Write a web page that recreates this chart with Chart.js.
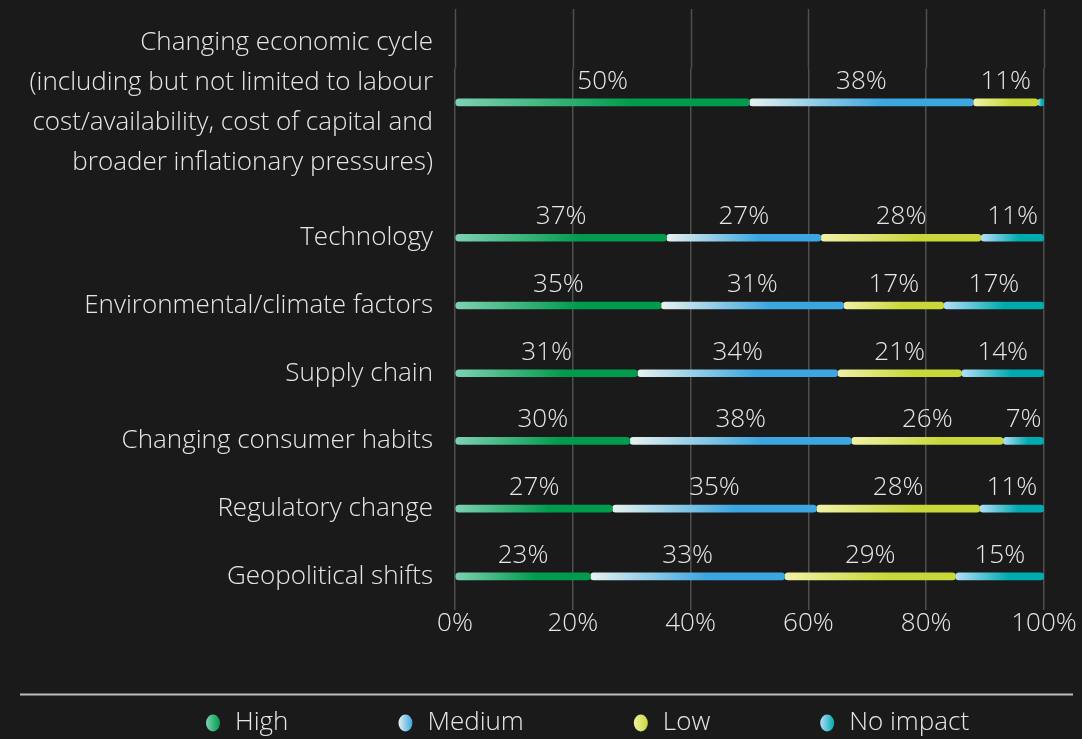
<!DOCTYPE html>
<html><head><meta charset="utf-8">
<script src="https://cdn.jsdelivr.net/npm/chart.js@4.4.1/dist/chart.umd.min.js"></script>
<style>
html,body{margin:0;padding:0;background:#1a1a1a;}
#wrap{position:relative;width:1082px;height:739px;}
</style></head><body>
<div id="wrap"><canvas id="c" width="1082" height="739"></canvas></div>
<script>
// ---- data ----
const categories = [
  ["Changing economic cycle","(including but not limited to labour","cost/availability, cost of capital and","broader inflationary pressures)"],
  "Technology",
  "Environmental/climate factors",
  "Supply chain",
  "Changing consumer habits",
  "Regulatory change",
  "Geopolitical shifts"
];
const seriesNames = ["High","Medium","Low","No impact"];
const high     = [50,37,35,31,30,27,23];
const medium   = [38,27,31,34,38,35,33];
const low      = [11,28,17,21,26,28,29];
const noImpact = [1,11,17,14,7,11,15];
const xTickValues = [0,20,40,60,80,100];

// ---- styles ----
const lightColors = ['#7ed2b2','#e6f2ee','#f0f1a6','#b3def8'];
const darkColors  = ['#009b4c','#3ba6e0','#c8d83a','#00abb0'];
const textColor = '#e6e6e6';
const FONT = "'Open Sans', 'Noto Sans', sans-serif";

// ---- build config ----
const series = [high, medium, low, noImpact];
const rowTotals = high.map((_, i) => series.reduce((s, a) => s + a[i], 0));
const withSpacer = arr => [arr[0], null, ...arr.slice(1)];
const labels = withSpacer(categories).map(l => l === null ? '' : l);

function gradientFill(ctx) {
  const d = ctx.datasetIndex;
  const chart = ctx.chart;
  if (!chart.chartArea || ctx.type !== 'data' || ctx.raw == null) return darkColors[d];
  const xs = chart.scales.x;
  const i = ctx.dataIndex;
  let start = 0;
  for (let k = 0; k < d; k++) start += chart.data.datasets[k].data[i] || 0;
  const x0 = xs.getPixelForValue(start), x1 = xs.getPixelForValue(start + ctx.raw);
  if (!isFinite(x0) || !isFinite(x1) || x1 - x0 < 1) return darkColors[d];
  const g = chart.ctx.createLinearGradient(x0, 0, x1, 0);
  g.addColorStop(0, lightColors[d]);
  g.addColorStop(0.6, darkColors[d]);
  g.addColorStop(1, darkColors[d]);
  return g;
}

const datasets = series.map((arr, d) => ({
  label: seriesNames[d],
  data: withSpacer(arr.map((v, i) => v / rowTotals[i] * 100)),
  rawValues: withSpacer(arr),
  backgroundColor: gradientFill,
  borderWidth: 0,
  borderSkipped: false,
  borderRadius: {topLeft: 3.5, topRight: 3.5, bottomLeft: 3.5, bottomRight: 3.5},
  barThickness: 7
}));

const valueLabels = {
  id: 'valueLabels',
  afterDatasetsDraw(chart) {
    const ctx = chart.ctx;
    ctx.save();
    ctx.font = `300 26px ${FONT}`;
    ctx.fillStyle = textColor;
    ctx.textAlign = 'center';
    ctx.textBaseline = 'middle';
    chart.data.datasets.forEach((ds, d) => {
      chart.getDatasetMeta(d).data.forEach((bar, j) => {
        const raw = ds.rawValues[j];
        if (raw == null || raw < 3) return;
        const txt = raw + '%';
        const w = ctx.measureText(txt).width;
        let cx = (bar.x + bar.base) / 2;
        if (cx + w / 2 > chart.chartArea.right) cx = chart.chartArea.right - w / 2;
        ctx.fillText(txt, cx, bar.y - 21);
      });
    });
    ctx.restore();
  }
};

const gridExtend = {
  id: 'gridExtend',
  beforeDatasetsDraw(chart) {
    const ctx = chart.ctx, xs = chart.scales.x, area = chart.chartArea;
    ctx.save();
    ctx.strokeStyle = '#4f4f4f';
    ctx.lineWidth = 1.5;
    xs.ticks.forEach(t => {
      const px = Math.round(xs.getPixelForValue(t.value)) + 0.5;
      ctx.beginPath();
      ctx.moveTo(px, 9);
      ctx.lineTo(px, area.top);
      ctx.stroke();
    });
    ctx.restore();
  }
};

const customLegend = {
  id: 'customLegend',
  afterDraw(chart) {
    const ctx = chart.ctx;
    ctx.save();
    ctx.strokeStyle = '#bdbdbd';
    ctx.lineWidth = 2;
    ctx.beginPath();
    ctx.moveTo(20, 694.5);
    ctx.lineTo(1073, 694.5);
    ctx.stroke();
    ctx.font = `300 26px ${FONT}`;
    ctx.textBaseline = 'middle';
    ctx.textAlign = 'left';
    let x = 206;
    const cy = 722;
    chart.data.datasets.forEach((ds, d) => {
      const g = ctx.createLinearGradient(x, 0, x + 14, 0);
      g.addColorStop(0, lightColors[d]);
      g.addColorStop(1, darkColors[d]);
      ctx.fillStyle = g;
      ctx.beginPath();
      ctx.ellipse(x + 7, cy + 1, 7, 8.5, 0, 0, Math.PI * 2);
      ctx.fill();
      ctx.fillStyle = textColor;
      ctx.fillText(ds.label, x + 29, cy + 1);
      x += 29 + ctx.measureText(ds.label).width + 110;
    });
    ctx.restore();
  }
};

new Chart(document.getElementById('c'), {
  type: 'bar',
  data: { labels, datasets },
  plugins: [gridExtend, valueLabels, customLegend],
  options: {
    responsive: false,
    devicePixelRatio: 1,
    animation: false,
    indexAxis: 'y',
    layout: { padding: { top: 68.5, right: 38, bottom: 102, left: 0 } },
    plugins: { legend: { display: false }, tooltip: { enabled: false } },
    scales: {
      x: {
        stacked: true, min: 0, max: 100,
        grid: { color: '#4f4f4f', lineWidth: 1.5, drawTicks: false },
        border: { display: false },
        afterBuildTicks: s => { s.ticks = xTickValues.map(v => ({ value: v })); },
        ticks: { padding: 3, color: textColor, font: { family: FONT, size: 26, weight: 300, lineHeight: 0.8 }, callback: v => v + '%', maxRotation: 0 }
      },
      y: {
        stacked: true,
        grid: { display: false, drawTicks: false },
        border: { display: false },
        afterFit: s => { s.width = 455; },
        ticks: { padding: 22, color: textColor, autoSkip: false, font: { family: FONT, size: 26, weight: 300, lineHeight: 1.54 } }
      }
    }
  }
});
</script>
</body></html>
